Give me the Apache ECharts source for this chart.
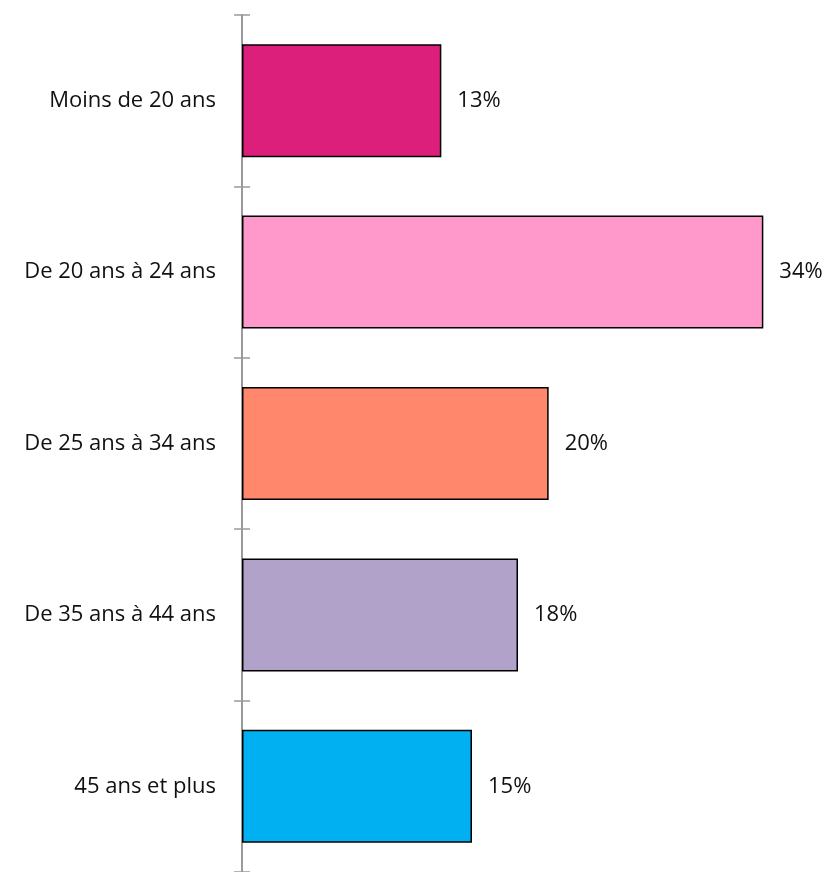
<!DOCTYPE html>
<html>
<head>
<meta charset="utf-8">
<script src="https://cdn.jsdelivr.net/npm/echarts@6/dist/echarts.min.js"></script>
<style>
  html, body { margin: 0; padding: 0; background: #fff; }
  #chart { width: 836px; height: 872px; }
</style>
</head>
<body>
<div id="chart"></div>
<script>
// Age groups, top to bottom
const categories = [
  'Moins de 20 ans',
  'De 20 ans à 24 ans',
  'De 25 ans à 34 ans',
  'De 35 ans à 44 ans',
  '45 ans et plus'
];
// Share of each age group, in percent
const shares = [13, 34, 20, 18, 15];
const barColors = ['#DC1F7A', '#FF99CC', '#FF876B', '#B0A2C9', '#00B0F0'];

const font = '"Open Sans", Lato, sans-serif';
const chart = echarts.init(document.getElementById('chart'));

const axisBase = {
  type: 'category',
  data: categories,
  inverse: true,
  position: 'left',
  axisLine: { show: true, lineStyle: { color: '#9a9a9a', width: 2 } },
  splitLine: { show: false }
};

chart.setOption({
  animation: false,
  backgroundColor: '#ffffff',
  grid: { left: 242, right: 42, top: 15, bottom: -3, containLabel: false },
  xAxis: {
    type: 'value',
    min: 0,
    max: 36,
    show: false
  },
  yAxis: [
    Object.assign({}, axisBase, {
      axisTick: { show: true, length: 8, lineStyle: { color: '#9a9a9a', width: 1.5 } },
      axisLabel: { color: '#111', fontSize: 22, fontFamily: font, margin: 26, padding: [5, 0, 0, 0] }
    }),
    Object.assign({}, axisBase, {
      axisTick: { show: true, inside: true, length: 8, lineStyle: { color: '#9a9a9a', width: 1.5 } },
      axisLabel: { show: false }
    })
  ],
  series: [{
    type: 'bar',
    yAxisIndex: 0,
    barWidth: 113,
    data: shares.map((v, i) => ({
      value: v,
      itemStyle: { color: barColors[i] }
    })),
    itemStyle: { borderColor: '#000', borderWidth: 1.5 },
    label: {
      show: true,
      position: 'right',
      distance: 16,
      color: '#111',
      fontSize: 22,
      fontFamily: font,
      padding: [5, 0, 0, 0],
      formatter: p => p.value + '%'
    }
  }]
});
</script>
</body>
</html>
